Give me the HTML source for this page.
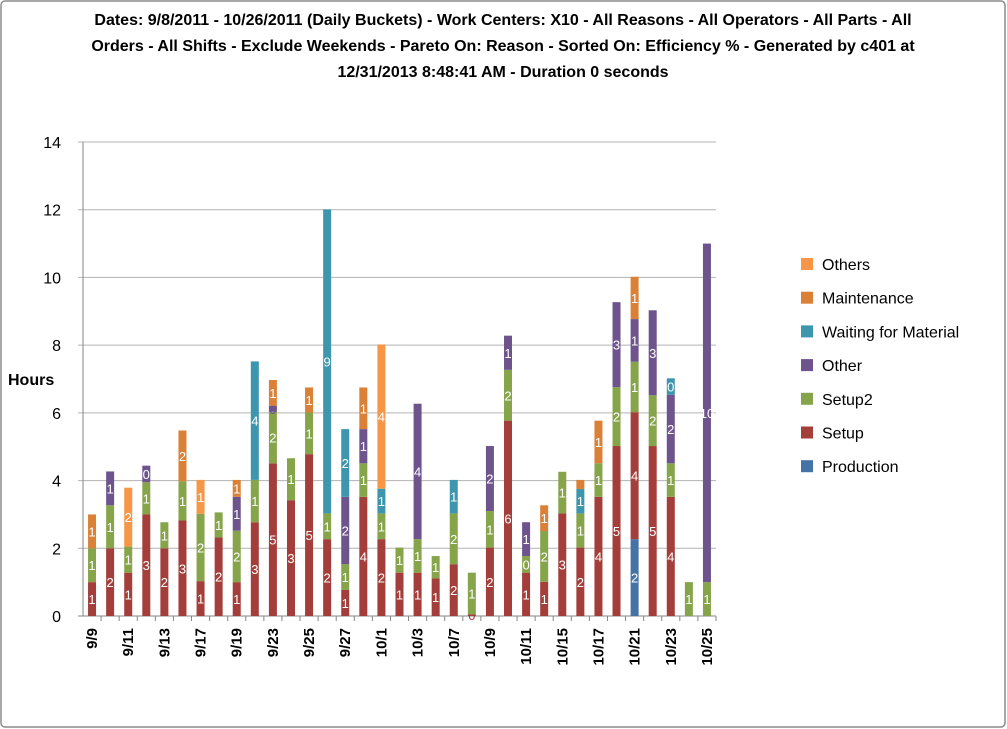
<!DOCTYPE html>
<html><head><meta charset="utf-8"><style>
body{margin:0;background:#fff;}
svg{display:block;font-family:"Liberation Sans",sans-serif;}
</style></head><body>
<svg id="chart" width="1007" height="729">
<rect x="1" y="1" width="1004" height="726" rx="4" fill="#fff" stroke="#8c8c8c" stroke-width="1.5"/>
<g font-weight="bold" font-size="16" text-anchor="middle" fill="#000">
<text x="503" y="25">Dates: 9/8/2011 - 10/26/2011 (Daily Buckets) - Work Centers: X10 - All Reasons - All Operators - All Parts - All</text>
<text x="503" y="51">Orders - All Shifts - Exclude Weekends - Pareto On: Reason - Sorted On: Efficiency % - Generated by c401 at</text>
<text x="503" y="77">12/31/2013 8:48:41 AM - Duration 0 seconds</text>
</g>
<text x="8" y="385" font-weight="bold" font-size="16">Hours</text>
<g id="grid"></g><g id="bars"></g><g id="axes"></g><g id="legend"></g>
</svg>
<script>
const categories=["9/9","9/10","9/11","9/12","9/13","9/16","9/17","9/18","9/19","9/20","9/23","9/24","9/25","9/26","9/27","9/30","10/1","10/2","10/3","10/4","10/7","10/8","10/9","10/10","10/11","10/14","10/15","10/16","10/17","10/18","10/21","10/22","10/23","10/24","10/25"];
const seriesNames=["Production","Setup","Setup2","Other","Waiting for Material","Maintenance","Others"];
const seriesColors=["#4572A7","#A33E3A","#86A44A","#6E548D","#3D96AE","#DA8137","#F79646"];
const production=[0,0,0,0,0,0,0,0,0,0,0,0,0,0,0,0,0,0,0,0,0,0,0,0,0,0,0,0,0,0,2.27,0,0,0,0];
const setup=[1,2,1.28,3,2,2.82,1.03,2.32,1,2.77,4.51,3.42,4.78,2.27,0.77,3.52,2.27,1.28,1.28,1.11,1.53,0.05,2.02,5.77,1.28,1.01,3.03,2.02,3.52,5.02,3.75,5.02,3.52,0,0];
const setup2=[1,1.27,0.77,0.95,0.77,1.16,1.99,0.74,1.52,1.25,1.52,1.24,1.23,0.76,0.76,0.99,0.76,0.74,0.99,0.66,1.5,1.23,1.08,1.5,0.49,1.5,1.23,1.01,0.99,1.74,1.49,1.5,0.99,1,1];
const other=[0,1,0,0.49,0,0,0,0,1,0,0.18,0,0,0,1.99,1.01,0,0,4,0,0,0,1.92,1.01,1,0,0,0,0,2.51,1.26,2.51,2.02,0,10];
const waiting=[0,0,0,0,0,0,0,0,0,3.5,0,0,0,8.98,2,0,0.73,0,0,0,0.99,0,0,0,0,0,0,0.73,0,0,0,0,0.49,0,0];
const maintenance=[1,0,0,0,0,1.5,0,0,0.5,0,0.76,0,0.74,0,0,1.23,0,0,0,0,0,0,0,0,0,0.76,0,0.26,1.26,0,1.25,0,0,0,0];
const others=[0,0,1.74,0,0,0,1,0,0,0,0,0,0,0,0,0,4.26,0,0,0,0,0,0,0,0,0,0,0,0,0,0,0,0,0,0];
const yTicks=[0,2,4,6,8,10,12,14];
const series=[production,setup,setup2,other,waiting,maintenance,others];
const NS="http://www.w3.org/2000/svg";
const X0=83,X1=716,Y0=616,Y1=142,YMAX=14;
const band=(X1-X0)/categories.length;
const yS=v=>Y0-(v/YMAX)*(Y0-Y1);
const xC=i=>X0+band*(i+0.5);
function mk(tag,attrs,parent){const e=document.createElementNS(NS,tag);for(const k in attrs)e.setAttribute(k,attrs[k]);parent.appendChild(e);return e;}
const grid=document.getElementById('grid'),bars=document.getElementById('bars'),axes=document.getElementById('axes'),legend=document.getElementById('legend');
yTicks.forEach(t=>{
 const l=mk('line',{x1:X0-5,x2:X1,y1:yS(t),y2:yS(t),stroke:t===0?'#868686':'#b3b3b3','stroke-width':1},grid);
 
 
 const tx=mk('text',{x:X0-22,y:yS(t)+6,'text-anchor':'end','font-size':16},axes);
 tx.textContent=t;
 
 
});
const ya=mk('line',{x1:X0,x2:X0,y1:Y1,y2:Y0,stroke:'#868686'},axes);


categories.forEach((c,i)=>{
 const tk=mk('line',{x1:X0+band*(i+1),x2:X0+band*(i+1),y1:Y0,y2:Y0+5,stroke:'#868686'},axes);
 
 
 if(i%2===0){
  const tx=mk('text',{x:0,y:0,'text-anchor':'end','font-size':15,'font-weight':'bold',transform:`translate(${xC(i)+5},${Y0+12}) rotate(-90)`},axes);
  tx.textContent=c;
  
  
 }
 let acc=0;
 series.forEach((s,k)=>{
  const v=s[i]; if(!v) return;
  const yt=yS(acc+v),yb=yS(acc);
  const r=mk('rect',{x:xC(i)-4,y:yt,width:8,height:Math.max(yb-yt,0.5),fill:seriesColors[k]},bars);
  
  
  const lb=mk('text',{x:xC(i),y:(yt+yb)/2+5,'text-anchor':'middle','font-size':13,fill:v<0.3?seriesColors[k]:'#fff'},bars);
  lb.textContent=Math.round(v);
  
  
  acc+=v;
 });
});
for(let k=seriesNames.length-1;k>=0;k--){
 const row=seriesNames.length-1-k, y=264+row*33.7;
 const g=mk('g',{},legend);
 
 
 mk('rect',{x:801,y:y-6,width:12,height:12,fill:seriesColors[k]},g);
 const t=mk('text',{x:822,y:y+6,'font-size':16},g);
 t.textContent=seriesNames[k];
}
</script>
</body></html>
